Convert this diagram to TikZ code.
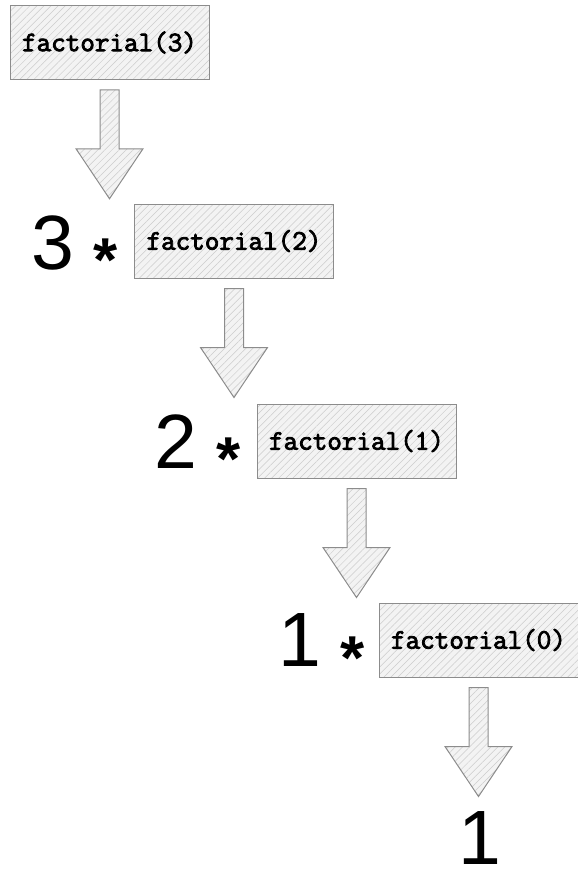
\documentclass[tikz,border=0pt]{standalone}
\usepackage{fontspec}
\setmainfont{Liberation Sans}
\newfontfamily\codefont[AutoFakeBold=3]{Latin Modern Mono}
\usetikzlibrary{patterns.meta}
\definecolor{edgegray}{HTML}{8C8C8C}
\definecolor{papergray}{HTML}{F3F3F3}
\definecolor{hatchgray}{HTML}{CCCCCC}
\tikzset{
  hatched/.style={preaction={fill=papergray}, pattern={Lines[angle=45,distance=5pt,line width=0.5pt]}, pattern color=hatchgray},
  callbox/.style={draw=edgegray, line width=1pt, hatched, minimum width=199pt, minimum height=74pt, inner sep=0pt, font=\fontsize{28.3}{30}\codefont\bfseries},
  bignum/.style={font=\fontsize{77}{82}\selectfont, inner sep=0pt, anchor=base},
  starsym/.style={font=\fontsize{62}{68}\selectfont\bfseries, inner sep=0pt, anchor=base},
  blockarrow/.style={draw=edgegray, line width=1pt, line join=miter, hatched}
}
\newcommand\blkarrow[1]{%
  \draw[blockarrow] ([yshift=-10pt]#1.south) ++(-9.5,0) -- ++(19,0) -- ++(0,59) -- ++(24,0) -- ++(-33.5,50) -- ++(-33.5,-50) -- ++(24,0) -- cycle;}
\begin{document}
\begin{tikzpicture}[x=1pt,y=-1pt]
\useasboundingbox (0,0) rectangle (578,870);
\node[callbox] (f3) at (109.5,42.5) {factorial(3)};
\node[bignum] (n3) at (53,269) {3};
\node[starsym] (s3) at (106,281) {*};
\node[callbox] (f2) at (234,241) {factorial(2)};
\node[bignum] (n2) at (176,468) {2};
\node[starsym] (s2) at (229,480) {*};
\node[callbox] (f1) at (356.5,441) {factorial(1)};
\node[bignum] (n1) at (300,666) {1};
\node[starsym] (s1) at (353,679) {*};
\node[callbox] (f0) at (478.5,640) {factorial(0)};
\node[bignum] (res) at (480,864) {1};
\blkarrow{f3}
\blkarrow{f2}
\blkarrow{f1}
\blkarrow{f0}
\end{tikzpicture}
\end{document}
